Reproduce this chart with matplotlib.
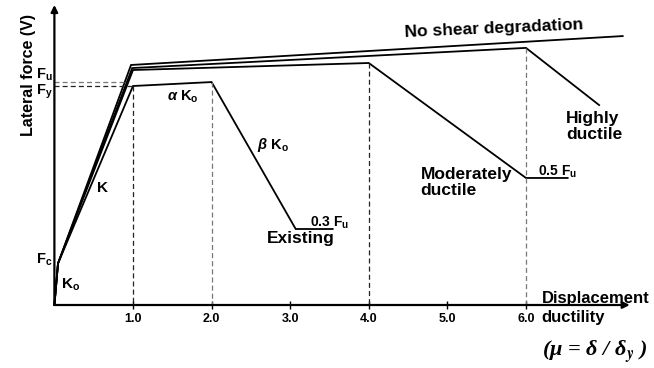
import matplotlib
matplotlib.use("Agg")
import matplotlib.pyplot as plt

# values (mu = displacement ductility, V normalised to Fy)
MU_TICKS = [1.0, 2.0, 3.0, 4.0, 5.0, 6.0]
MU_TICK_LABELS = ["1.0", "2.0", "3.0", "4.0", "5.0", "6.0"]

F_C = 0.19
F_Y = 1.0
F_U = 1.018

existing_mu = [0, 0.046, 1.0, 2.0, 3.07, 3.54]
existing_v  = [0, F_C, F_Y, F_U, 0.347, 0.347]

moderate_mu = [0, 0.046, 1.0, 4.0, 6.0, 6.53]
moderate_v  = [0, F_C, 1.073, 1.105, 0.58, 0.58]

high_mu = [0, 0.046, 0.99, 6.0, 6.93]
high_v  = [0, F_C, 1.082, 1.174, 0.913]

noshear_mu = [0, 0.046, 0.975, 7.23]
noshear_v  = [0, F_C, 1.096, 1.228]

plt.rcParams["font.family"] = ["Liberation Sans", "DejaVu Sans"]
plt.rcParams["font.weight"] = "bold"
plt.rcParams["mathtext.fontset"] = "custom"
plt.rcParams["mathtext.rm"] = "Liberation Sans:bold"
plt.rcParams["mathtext.bf"] = "Liberation Sans:bold"
plt.rcParams["mathtext.it"] = "Liberation Sans:italic"

W, H = 654, 368
fig = plt.figure(figsize=(W / 100, H / 100), dpi=100)
XMAX, YMAX = 7.4, 1.38
ax = fig.add_axes([54.4 / W, 63 / H, XMAX * 78.6 / W, YMAX * 219 / H])
ax.set_xlim(0, XMAX)
ax.set_ylim(0, YMAX)
for s in ax.spines.values():
    s.set_visible(False)

# curves
for xs, ys in [(existing_mu, existing_v), (moderate_mu, moderate_v),
               (high_mu, high_v), (noshear_mu, noshear_v)]:
    ax.plot(xs, ys, color="black", lw=1.3, solid_joinstyle="miter", clip_on=False)

# guide lines
dash = (0, (4, 2.5))
ax.plot([0, 1.0], [F_Y, F_Y], color="#222222", lw=0.9, ls=dash)
ax.plot([1.0, 1.0], [F_Y, 0], color="#222222", lw=0.9, ls=dash)
ax.plot([0, 0.9], [F_U, F_U], color="#777777", lw=0.9, ls=dash)
ax.plot([existing_mu[3]] * 2, [existing_v[3], 0], color="#777777", lw=0.9, ls=dash)
ax.plot([moderate_mu[3]] * 2, [moderate_v[3], 0], color="#222222", lw=0.9, ls=dash)
ax.plot([high_mu[3]] * 2, [high_v[3], 0], color="#777777", lw=0.9, ls=dash)

# axes as arrows
arrow = dict(arrowstyle="-|>", lw=1.6, color="black", mutation_scale=10,
             shrinkA=0, shrinkB=0)
ax.annotate("", xy=(7.32, 0), xytext=(0, 0), arrowprops=arrow, annotation_clip=False)
ax.annotate("", xy=(0, 1.37), xytext=(0, 0), arrowprops=arrow, annotation_clip=False)

ax.set_xticks(MU_TICKS)
ax.set_xticklabels(MU_TICK_LABELS, fontsize=9, fontweight="bold")
ax.tick_params(axis="x", direction="inout", length=6, width=1, pad=3)
ax.set_yticks([])

# labels
fig.text(29 / W, 1 - 75 / H, "Lateral force (V)", rotation=90, fontsize=11.5,
         ha="center", va="center")
ax.text(5.59, 1.26, "No shear degradation", fontsize=12.5, rotation=2.5,
        ha="center", va="center")
ax.text(6.51, 0.885, "Highly\nductile", fontsize=12.5, ha="left", va="top",
        linespacing=1.1)
ax.text(4.66, 0.63, "Moderately\nductile", fontsize=12.5, ha="left", va="top",
        linespacing=1.1)
ax.text(2.70, 0.283, "Existing", fontsize=12.5, ha="left", va="baseline")
ax.text(3.25, 0.357, "0.3 F$_\\mathrm{u}$", fontsize=10, ha="left", va="baseline")
ax.text(6.15, 0.59, "0.5 F$_\\mathrm{u}$", fontsize=10, ha="left", va="baseline")
ax.text(2.58, 0.73, "$\\beta$ K$_\\mathrm{o}$", fontsize=10.5, ha="left", va="center")
ax.text(1.43, 0.95, "$\\alpha$ K$_\\mathrm{o}$", fontsize=10.5, ha="left", va="center")
ax.text(0.607, 0.534, "K", fontsize=11, ha="center", va="center")
ax.text(0.085, 0.091, "K$_\\mathrm{o}$", fontsize=11, ha="left", va="center")
ax.text(-0.02, 0.187, "F$_\\mathrm{c}$", fontsize=10.5, ha="right", va="baseline")
ax.text(-0.02, 1.032, "F$_\\mathrm{u}$", fontsize=10.5, ha="right", va="baseline")
ax.text(-0.02, 0.96, "F$_\\mathrm{y}$", fontsize=10.5, ha="right", va="baseline")
ax.text(6.20, 0.01, "Displacement", fontsize=12, ha="left", va="baseline")
ax.text(6.20, -0.078, "ductility", fontsize=12, ha="left", va="baseline")
ax.text(6.20, -0.215, "(μ = δ / δ$_y$ )", fontsize=16, ha="left", va="center",
        family="Liberation Serif", style="italic", weight="bold",
        math_fontfamily="stix")

fig.savefig("out.png", dpi=100)
